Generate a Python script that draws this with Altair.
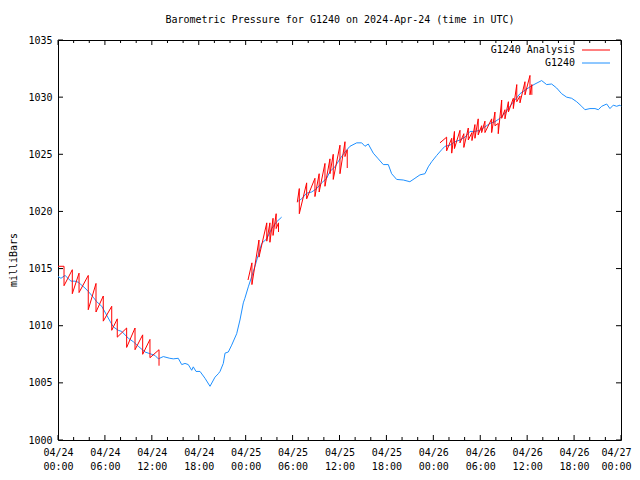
import altair as alt
import pandas as pd

# ---------------- data (hours since 2024-04-24 00:00 UTC, millibars) ----------------
blue_seg1_t = [0, 0.38, 0.9, 1.66, 2.17, 2.6, 3.45, 3.87, 4.5, 4.95, 5.6, 6.0, 6.65, 7.07, 7.7,
               8.15, 9.0, 9.63, 10.27, 11.13, 12.4, 12.83, 13.47, 14.3, 14.74, 15.38, 15.82, 16.24,
               16.66, 17.1, 17.3, 17.65, 18.16, 18.8, 19.44, 20.08, 20.5, 20.72, 21.14, 21.36, 21.78,
               22.21, 22.85, 23.27, 23.7, 23.9, 24.34, 24.77, 25.19, 25.61, 26.05, 26.69, 27.33,
               27.97, 28.6]
blue_seg1_v = [1014.3, 1014.15, 1014.4, 1013.9, 1013.9, 1013.8, 1013.3, 1013.0, 1012.5, 1012.1,
               1011.7, 1011.2, 1010.4, 1009.9, 1009.6, 1009.5, 1008.9, 1008.6, 1008.2, 1007.7,
               1007.4, 1007.1, 1007.3, 1007.15, 1007.1, 1007.15, 1006.6, 1006.7, 1006.6, 1006.1,
               1006.4, 1006.0, 1006.0, 1005.4, 1004.7, 1005.5, 1005.8, 1006.0, 1006.7, 1007.6,
               1007.7, 1008.3, 1009.3, 1010.5, 1012.0, 1012.4, 1013.4, 1014.3, 1015.2, 1016.2,
               1017.2, 1017.6, 1018.5, 1019.1, 1019.5]
blue_seg2_t = [30.73, 31.16, 31.8, 32.44, 33.08, 33.72, 34.36, 34.78, 35.42, 36.06, 36.7, 37.34,
               38.2, 38.84, 39.26, 39.68, 40.32, 40.96, 41.6, 42.24, 42.67, 43.31, 44.16, 45.0,
               45.65, 46.29, 46.93, 47.35, 47.79, 48.43, 49.07, 49.49, 50.13, 50.77, 51.41, 52.05,
               52.69, 53.32, 53.96, 54.6, 55.24, 55.88, 56.52, 57.16, 57.8, 58.44, 59.08, 59.72,
               60.36, 61.0, 61.85, 62.49, 63.13, 63.77, 64.41, 65.05, 65.69, 66.33, 66.97, 67.39,
               68.03, 68.67, 69.1, 69.53, 70.17, 70.59, 71.01, 71.44, 71.87, 72.0]
blue_seg2_v = [1020.9, 1021.1, 1021.6, 1021.7, 1022.0, 1022.5, 1022.9, 1023.5, 1023.9, 1024.6,
               1025.2, 1025.7, 1026.0, 1026.0, 1025.7, 1025.9, 1025.1, 1024.6, 1024.1, 1024.1,
               1023.3, 1022.8, 1022.75, 1022.6, 1022.9, 1023.2, 1023.3, 1023.9, 1024.35, 1024.9,
               1025.4, 1025.7, 1025.8, 1026.1, 1026.25, 1026.5, 1027.0, 1027.0, 1027.1, 1027.4,
               1027.7, 1027.85, 1028.15, 1028.6, 1029.2, 1029.75, 1030.3, 1030.6, 1030.9, 1031.15,
               1031.45, 1031.1, 1031.15, 1030.8, 1030.3, 1030.0, 1029.9, 1029.6, 1029.2, 1028.9,
               1029.0, 1029.0, 1028.9, 1029.2, 1029.4, 1029.0, 1029.3, 1029.2, 1029.3, 1029.2]

# Analysis (red): each block = start point, then teeth (time, peak, trough)
red1_start = (0.0, 1015.2)
red1_t = [0.77, 1.83, 2.69, 3.87, 4.86, 5.79, 6.87, 7.58, 8.78, 9.85, 10.83, 11.76, 12.92]
red1_hi = [1015.2, 1014.9, 1014.6, 1014.4, 1013.7, 1012.6, 1011.7, 1010.6, 1009.8, 1009.8,
           1009.2, 1008.8, 1007.9]
red1_lo = [1013.5, 1012.8, 1012.9, 1011.4, 1011.2, 1010.4, 1009.6, 1009.0, 1008.1, 1007.9,
           1007.5, 1007.2, 1006.5]

red2_start = (24.3, 1014.0)
red2_t = [24.8, 25.7, 26.7, 27.1, 27.5, 27.9, 28.2]
red2_hi = [1015.5, 1017.5, 1019.0, 1019.0, 1019.4, 1019.8, 1019.0]
red2_lo = [1013.6, 1016.0, 1017.4, 1017.3, 1017.9, 1018.5, 1018.2]

red3_start = (30.6, 1020.8)
red3_t = [30.86, 31.8, 32.86, 33.4, 34.14, 34.78, 35.2, 36.06, 36.7, 36.99]
red3_hi = [1022.0, 1022.5, 1022.9, 1023.3, 1024.2, 1024.6, 1025.0, 1025.8, 1026.1, 1025.4]
red3_lo = [1019.8, 1021.1, 1021.3, 1021.7, 1022.2, 1023.3, 1022.8, 1023.3, 1024.8, 1023.8]

red4_start = (48.85, 1026.0)
red4_t = [49.7, 50.35, 50.7, 51.41, 51.9, 52.47, 52.94, 53.32, 53.74, 54.18, 54.6, 55.46,
          55.88, 56.3, 56.74, 57.16, 57.6, 58.23, 58.67, 59.08, 59.72, 60.36, 60.6]
red4_hi = [1026.5, 1026.4, 1027.0, 1027.1, 1026.8, 1027.3, 1026.9, 1027.6, 1028.1, 1027.5,
           1027.9, 1028.1, 1028.7, 1027.7, 1029.75, 1028.9, 1029.6, 1029.9, 1031.1, 1030.1,
           1031.35, 1031.9, 1031.1]
red4_lo = [1025.3, 1025.1, 1025.5, 1026.0, 1025.6, 1026.25, 1026.2, 1026.4, 1026.7, 1026.9,
           1026.9, 1026.9, 1027.5, 1026.8, 1028.15, 1028.1, 1028.7, 1029.0, 1029.6, 1029.5,
           1030.2, 1030.2, 1030.2]

x_major = [0, 6, 12, 18, 24, 30, 36, 42, 48, 54, 60, 66, 72]
x_minor = [2, 4, 8, 10, 14, 16, 20, 22, 26, 28, 32, 34, 38, 40, 44, 46, 50, 52, 56, 58, 62, 64, 68, 70]
x_lab_date = ["04/24", "04/24", "04/24", "04/24", "04/25", "04/25", "04/25", "04/25",
              "04/26", "04/26", "04/26", "04/26", "04/27"]
x_lab_time = ["00:00", "06:00", "12:00", "18:00", "00:00", "06:00", "12:00", "18:00",
              "00:00", "06:00", "12:00", "18:00", "00:00"]
y_major = [1000, 1005, 1010, 1015, 1020, 1025, 1030, 1035]

TITLE = "Barometric Pressure for G1240 on 2024-Apr-24 (time in UTC)"
RED = "#ff0000"
BLUE = "#1e90ff"
FONT = "DejaVu Sans Mono"
FS = 10
W, H = 563, 400

# ---------------- build tables ----------------
rows = []
for seg, (ts, vs) in enumerate([(blue_seg1_t, blue_seg1_v), (blue_seg2_t, blue_seg2_v)]):
    for i, (t, v) in enumerate(zip(ts, vs)):
        rows.append({"t": t, "v": v, "seg": seg, "i": i})
blue_df = pd.DataFrame(rows)

rows = []
blocks = [(red1_start, red1_t, red1_hi, red1_lo), (red2_start, red2_t, red2_hi, red2_lo),
          (red3_start, red3_t, red3_hi, red3_lo), (red4_start, red4_t, red4_hi, red4_lo)]
for seg, (st, ts, his, los) in enumerate(blocks):
    k = 0
    rows.append({"t": st[0], "v": st[1], "seg": seg, "i": k}); k += 1
    for t, hi, lo in zip(ts, his, los):
        rows.append({"t": t, "v": hi, "seg": seg, "i": k}); k += 1
        rows.append({"t": t, "v": lo, "seg": seg, "i": k}); k += 1
red_df = pd.DataFrame(rows)

xs = alt.Scale(domain=[0, 72], nice=False, zero=False)
ys = alt.Scale(domain=[1000, 1035], nice=False, zero=False)

lab_expr = ("[" + str(x_lab_date) + "[round(datum.value/6)], "
            + str(x_lab_time) + "[round(datum.value/6)]]")

base_axes = alt.Chart(pd.DataFrame({"t": [0], "v": [1000]})).mark_point(opacity=0).encode(
    x=alt.X("t:Q", scale=xs, axis=alt.Axis(values=x_major, labelExpr=lab_expr, title=None,
                                           tickSize=0, domain=False, grid=False,
                                           labelFont=FONT, labelFontSize=FS, labelColor="black",
                                           labelBaseline="top", labelPadding=7,
                                           labelLineHeight=14, labelFlush=False,
                                           labelAlign={"condition": {"test": "datum.value >= 72", "value": "right"},
                                                       "value": "center"},
                                           labelOffset={"condition": {"test": "datum.value >= 72", "value": 10},
                                                        "value": 0})),
    y=alt.Y("v:Q", scale=ys, axis=alt.Axis(values=y_major, title=None, tickSize=0,
                                           domain=False, grid=False, labelFont=FONT,
                                           labelFontSize=FS, labelColor="black",
                                           labelPadding=6, format="d")),
)

blue = alt.Chart(blue_df).mark_line(color=BLUE, strokeWidth=1).encode(
    x=alt.X("t:Q", scale=xs), y=alt.Y("v:Q", scale=ys), detail="seg:N", order="i:Q")
red = alt.Chart(red_df).mark_line(color=RED, strokeWidth=1).encode(
    x=alt.X("t:Q", scale=xs), y=alt.Y("v:Q", scale=ys), detail="seg:N", order="i:Q")

xmaj = pd.DataFrame({"t": x_major})
xmin = pd.DataFrame({"t": x_minor})
ymaj = pd.DataFrame({"v": y_major})
tick_layers = [
    alt.Chart(xmaj).mark_rule(color="black").encode(x=alt.X("t:Q", scale=xs), y=alt.value(H), y2=alt.value(H - 5)),
    alt.Chart(xmaj).mark_rule(color="black").encode(x=alt.X("t:Q", scale=xs), y=alt.value(0), y2=alt.value(5)),
    alt.Chart(xmin).mark_rule(color="black").encode(x=alt.X("t:Q", scale=xs), y=alt.value(H), y2=alt.value(H - 3)),
    alt.Chart(xmin).mark_rule(color="black").encode(x=alt.X("t:Q", scale=xs), y=alt.value(0), y2=alt.value(3)),
    alt.Chart(ymaj).mark_rule(color="black").encode(y=alt.Y("v:Q", scale=ys), x=alt.value(0), x2=alt.value(5)),
    alt.Chart(ymaj).mark_rule(color="black").encode(y=alt.Y("v:Q", scale=ys), x=alt.value(W - 5), x2=alt.value(W)),
]

one = pd.DataFrame({"a": [0]})
texts = [
    alt.Chart(one).mark_text(text=TITLE, font=FONT, fontSize=FS, align="center", baseline="middle", color="black")
      .encode(x=alt.value(W / 2 + 0.5), y=alt.value(-20)),
    alt.Chart(one).mark_text(text="milliBars", font=FONT, fontSize=FS, align="center", baseline="middle",
                             angle=270, color="black").encode(x=alt.value(-44), y=alt.value(H / 2 + 20)),
    alt.Chart(one).mark_text(text="G1240 Analysis", font=FONT, fontSize=FS, align="right", baseline="middle",
                             color="black").encode(x=alt.value(517), y=alt.value(10)),
    alt.Chart(one).mark_text(text="G1240", font=FONT, fontSize=FS, align="right", baseline="middle",
                             color="black").encode(x=alt.value(517), y=alt.value(23)),
    alt.Chart(one).mark_rule(color=RED, strokeWidth=1).encode(x=alt.value(524), x2=alt.value(552), y=alt.value(10)),
    alt.Chart(one).mark_rule(color=BLUE, strokeWidth=1).encode(x=alt.value(524), x2=alt.value(552), y=alt.value(23)),
]

chart = alt.layer(base_axes, blue, red, *tick_layers, *texts).properties(
    width=W, height=H,
    autosize=alt.AutoSizeParams(type="none"),
    padding={"left": 50, "top": 32, "right": 11, "bottom": 32},
    background="white",
).configure_view(stroke="black", strokeWidth=1)

chart.save("out.html", embed_options={"renderer": "svg", "actions": False})
